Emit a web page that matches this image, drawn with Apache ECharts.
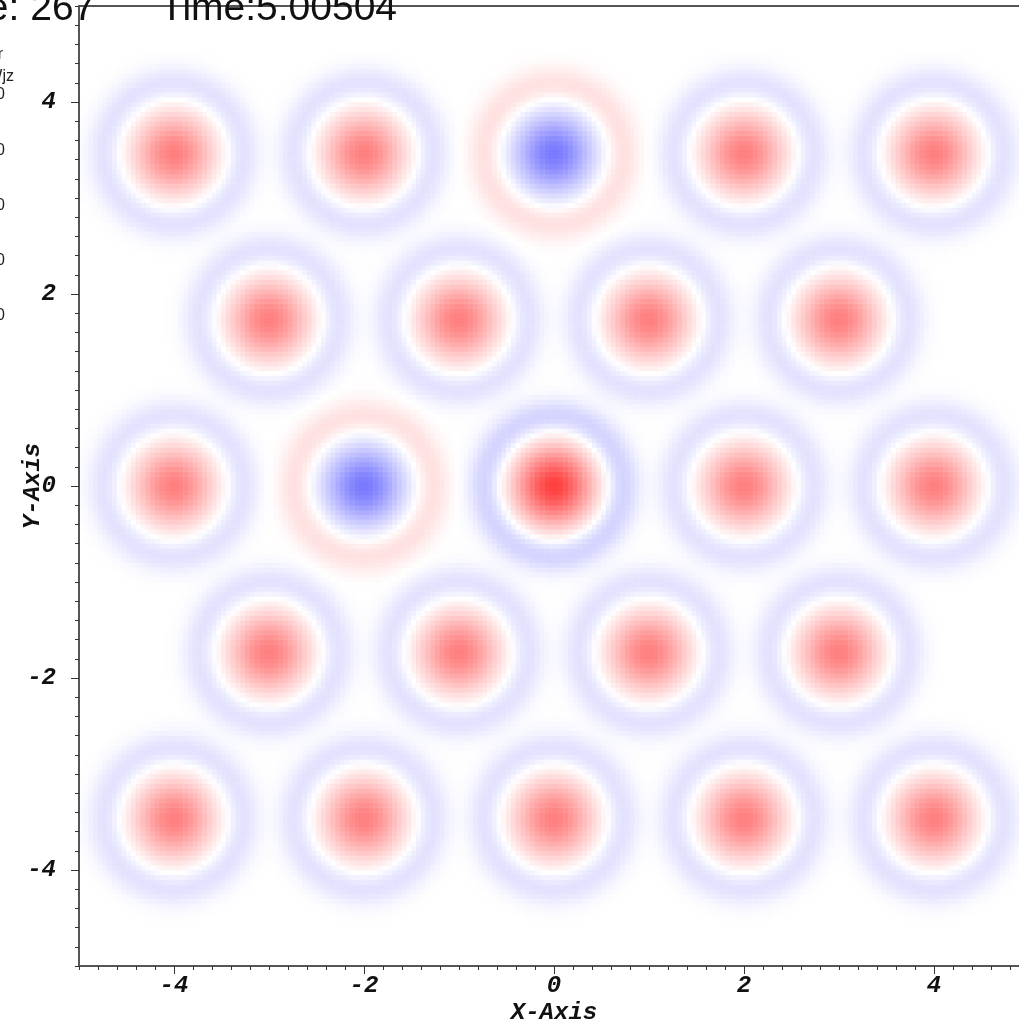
<!DOCTYPE html>
<html>
<head>
<meta charset="utf-8">
<script src="https://cdn.jsdelivr.net/npm/echarts@6/dist/echarts.min.js"></script>
<style>
  html, body { margin: 0; padding: 0; background: #ffffff; }
  #chart { width: 1019px; height: 1026px; }
</style>
</head>
<body>
<div id="chart"></div>
<script>
// Shielded vortices on a hexagonal lattice: centre x, centre y, signed strength
const vortexX = [-4, -2, 0, 2, 4,   -3, -1, 1, 3,   -4, -2, 0, 2, 4,   -3, -1, 1, 3,   -4, -2, 0, 2, 4];
const vortexY = [3.464, 3.464, 3.464, 3.464, 3.464,
                 1.732, 1.732, 1.732, 1.732,
                 0, 0, 0, 0, 0,
                 -1.732, -1.732, -1.732, -1.732,
                 -3.464, -3.464, -3.464, -3.464, -3.464];
const vortexStrength = [1, 1, -1.05, 1, 1,
                        1, 1, 1, 1,
                        1, -1.05, 1.5, 1, 1,
                        1, 1, 1, 1,
                        1, 1, 1, 1, 1];

// Radial vorticity profile of one vortex: positive core, opposite-signed ring
const coreAmplitude = 0.5;
const coreRadius = 0.40;
const ringRadius = 0.72;
const ringWidth = 0.19;
const ringDepth = 0.26;

// Axis ticks and labels
const xTicks = [-4, -2, 0, 2, 4];
const yTicks = [-4, -2, 0, 2, 4];
const axisMin = -5, axisMax = 5;
const cellsPerAxis = 200;

// Header and legend text
const cycleText = 'Cycle: 267';
const timeText = 'Time:5.00504';
const legendTitle = 'Pseudocolor';
const legendVar = 'Var: Wjz';
const legendLabels = ['1.000', '0.500', '0.000', '-0.500', '-1.000'];

function profile(r) {
  const core = Math.exp(-(r / coreRadius) * (r / coreRadius));
  const q = (r - ringRadius) / ringWidth;
  return core - ringDepth * Math.exp(-q * q);
}

// Sample the vorticity field on the cell centres of the heatmap
const cellSize = (axisMax - axisMin) / cellsPerAxis;
const cellCentres = [];
for (let i = 0; i < cellsPerAxis; i++) {
  cellCentres.push(+(axisMin + (i + 0.5) * cellSize).toFixed(4));
}
const fieldData = [];
for (let i = 0; i < cellsPerAxis; i++) {
  for (let j = 0; j < cellsPerAxis; j++) {
    const x = cellCentres[i], y = cellCentres[j];
    let w = 0;
    for (let k = 0; k < vortexX.length; k++) {
      const dx = x - vortexX[k], dy = y - vortexY[k];
      const r = Math.sqrt(dx * dx + dy * dy);
      if (r < 1.5) w += vortexStrength[k] * coreAmplitude * profile(r);
    }
    fieldData.push([i, j, +w.toFixed(4)]);
  }
}

const tickFont = { fontFamily: '"Liberation Mono", monospace', fontWeight: 'bold', fontStyle: 'italic', fontSize: 24, color: '#111' };
const lineStyle = { color: '#555', width: 2 };
const plotRect = { left: 79, top: 6, width: 950, height: 960, outerBoundsMode: 'none', containLabel: false };

const chart = echarts.init(document.getElementById('chart'), null, { renderer: 'canvas' });
chart.setOption({
  animation: false,
  backgroundColor: '#ffffff',
  grid: [
    Object.assign({ show: false }, plotRect),
    Object.assign({ show: false }, plotRect)
  ],
  visualMap: {
    type: 'continuous', show: false, seriesIndex: 0,
    min: -1, max: 1,
    inRange: { color: ['#0000ff', '#ffffff', '#ff0000'] }
  },
  xAxis: [
    { type: 'category', gridIndex: 0, data: cellCentres, show: false },
    {
      type: 'value', gridIndex: 1, position: 'bottom', min: axisMin, max: axisMax, z: 10,
      axisLine: { show: true, onZero: false, lineStyle: lineStyle },
      axisTick: { show: true, customValues: xTicks, length: 8, lineStyle: { color: '#333', width: 1 } },
      axisLabel: Object.assign({ customValues: xTicks, margin: 8 }, tickFont),
      splitLine: { show: false },
      name: 'X-Axis', nameLocation: 'middle', nameGap: 35, nameMoveOverlap: false, nameTextStyle: tickFont
    },
    {
      type: 'value', gridIndex: 1, position: 'bottom', min: axisMin, max: axisMax, interval: 0.2, z: 10,
      axisLine: { show: false, onZero: false },
      axisTick: { show: true, length: 4, lineStyle: { color: '#333', width: 1 } },
      axisLabel: { show: false }, splitLine: { show: false }
    },
    {
      type: 'value', gridIndex: 1, position: 'top', min: axisMin, max: axisMax, z: 10,
      axisLine: { show: true, onZero: false, lineStyle: lineStyle },
      axisTick: { show: false }, axisLabel: { show: false }, splitLine: { show: false }
    }
  ],
  yAxis: [
    { type: 'category', gridIndex: 0, data: cellCentres, show: false },
    {
      type: 'value', gridIndex: 1, position: 'left', min: axisMin, max: axisMax, z: 10,
      axisLine: { show: true, onZero: false, lineStyle: lineStyle },
      axisTick: { show: true, customValues: yTicks, length: 8, lineStyle: { color: '#333', width: 1 } },
      axisLabel: Object.assign({ customValues: yTicks, margin: 23 }, tickFont),
      splitLine: { show: false },
      name: 'Y-Axis', nameLocation: 'middle', nameRotate: 90, nameGap: 34, nameMoveOverlap: false, nameTextStyle: tickFont
    },
    {
      type: 'value', gridIndex: 1, position: 'left', min: axisMin, max: axisMax, interval: 0.2, z: 10,
      axisLine: { show: false, onZero: false },
      axisTick: { show: true, length: 4, lineStyle: { color: '#333', width: 1 } },
      axisLabel: { show: false }, splitLine: { show: false }
    },
    {
      type: 'value', gridIndex: 1, position: 'right', min: axisMin, max: axisMax, z: 10,
      axisLine: { show: true, onZero: false, lineStyle: lineStyle },
      axisTick: { show: false }, axisLabel: { show: false }, splitLine: { show: false }
    }
  ],
  series: [{
    type: 'heatmap',
    xAxisIndex: 0, yAxisIndex: 0,
    data: fieldData,
    progressive: 0,
    emphasis: { disabled: true },
    silent: true
  }],
  graphic: [
    { type: 'text', z: 100, style: { text: cycleText, x: -89, y: 29, verticalAlign: 'bottom', align: 'left', font: '39px "Liberation Sans", sans-serif', fill: '#111' } },
    { type: 'text', z: 100, style: { text: timeText, x: 160, y: 29, verticalAlign: 'bottom', align: 'left', font: '39px "Liberation Sans", sans-serif', fill: '#111' } },
    { type: 'text', z: 100, style: { text: legendTitle, x: 3, y: 55, verticalAlign: 'middle', align: 'right', font: '16px "Liberation Sans", sans-serif', fill: '#222' } },
    { type: 'text', z: 100, style: { text: legendVar, x: 14, y: 77, verticalAlign: 'middle', align: 'right', font: '16px "Liberation Sans", sans-serif', fill: '#222' } }
  ].concat(legendLabels.map(function (t, i) {
    return { type: 'text', z: 100, style: { text: t, x: 5, y: 95 + i * 55.2, verticalAlign: 'middle', align: 'right', font: '16px "Liberation Sans", sans-serif', fill: '#222' } };
  }))
});
</script>
</body>
</html>
